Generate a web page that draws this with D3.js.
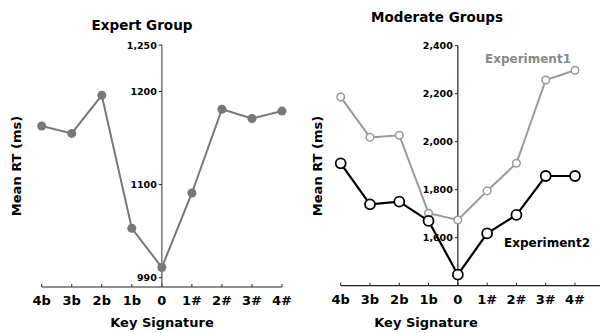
<!DOCTYPE html>
<html>
<head>
<meta charset="utf-8">
<script src="https://cdn.jsdelivr.net/npm/d3@7"></script>
<style>
  body { margin: 0; background: #fff; }
  svg text { font-family: "DejaVu Sans", Verdana, sans-serif; font-weight: bold; }
</style>
</head>
<body>
<div id="chart"></div>
<script>
// key signatures along the x axis
const keys = ["4b", "3b", "2b", "1b", "0", "1#", "2#", "3#", "4#"];

// Expert group mean RT (ms)
const expertRT = [1163, 1155, 1196, 1053, 1011, 1091, 1181, 1171, 1179];
const expertTicks = [1000, 1100, 1200, 1250];
const expertTickLabels = ["990", "1100", "1200", "1,250"];

// Moderate groups
const exp1RT = [2186, 2018, 2027, 1702, 1674, 1795, 1910, 2257, 2298];
const exp2RT = [1910, 1739, 1750, 1670, 1446, 1618, 1695, 1857, 1857];
const moderateTicks = [1600, 1800, 2000, 2200, 2400];

const W = 600, H = 333;
const svg = d3.select("#chart").append("svg")
  .attr("width", W).attr("height", H);

// Left panel: Expert Group
{
  const x = d3.scalePoint().domain(keys).range([41.7, 282]);
  const y = d3.scaleLinear().domain([990, 1250]).range([287, 45]);
  const g = svg.append("g");

  // x axis
  g.append("line")
    .attr("x1", x("4b")).attr("x2", x("4#"))
    .attr("y1", y(990)).attr("y2", y(990))
    .attr("stroke", "#222").attr("stroke-width", 1.2);
  g.selectAll(".xt").data(keys).enter().append("line")
    .attr("x1", d => x(d)).attr("x2", d => x(d))
    .attr("y1", y(990) - 3).attr("y2", y(990))
    .attr("stroke", "#222").attr("stroke-width", 1);
  g.selectAll(".xl").data(keys).enter().append("text")
    .attr("x", d => x(d)).attr("y", y(990) + 18)
    .attr("text-anchor", "middle").attr("font-size", 13)
    .text(d => d);

  // y axis
  g.append("line")
    .attr("x1", x("0")).attr("x2", x("0"))
    .attr("y1", y(1250)).attr("y2", y(990))
    .attr("stroke", "#555").attr("stroke-width", 1.2);
  g.selectAll(".yt").data(expertTicks).enter().append("line")
    .attr("x1", x("0") - 3).attr("x2", x("0"))
    .attr("y1", d => y(d)).attr("y2", d => y(d))
    .attr("stroke", "#222");
  g.selectAll(".yl").data(expertTicks).enter().append("text")
    .attr("x", x("0") - 5).attr("y", d => y(d) + 3.5)
    .attr("text-anchor", "end").attr("font-size", 9.5)
    .text((d, i) => expertTickLabels[i]);

  const line = d3.line().x((d, i) => x(keys[i])).y(d => y(d));
  g.append("path").datum(expertRT)
    .attr("d", line).attr("fill", "none")
    .attr("stroke", "#777").attr("stroke-width", 2);
  g.selectAll(".pt").data(expertRT).enter().append("circle")
    .attr("cx", (d, i) => x(keys[i])).attr("cy", d => y(d))
    .attr("r", 4.5).attr("fill", "#777");

  g.append("text").attr("x", 142).attr("y", 30)
    .attr("text-anchor", "middle").attr("font-size", 13.5)
    .text("Expert Group");
  g.append("text").attr("x", 162).attr("y", 327)
    .attr("text-anchor", "middle").attr("font-size", 13)
    .text("Key Signature");
  g.append("text")
    .attr("transform", "translate(21,166) rotate(-90)")
    .attr("text-anchor", "middle").attr("font-size", 13)
    .text("Mean RT (ms)");
}

// Right panel: Moderate Groups
{
  const x = d3.scalePoint().domain(keys).range([340.7, 575]);
  const y = d3.scaleLinear().domain([1400, 2400]).range([285.7, 45.7]);
  const g = svg.append("g");

  g.append("line")
    .attr("x1", x("4b")).attr("x2", W)
    .attr("y1", y(1400)).attr("y2", y(1400))
    .attr("stroke", "#222").attr("stroke-width", 1.2);
  g.selectAll(".xt").data(keys).enter().append("line")
    .attr("x1", d => x(d)).attr("x2", d => x(d))
    .attr("y1", y(1400) - 3).attr("y2", y(1400))
    .attr("stroke", "#222");
  g.selectAll(".xl").data(keys).enter().append("text")
    .attr("x", d => x(d)).attr("y", y(1400) + 18)
    .attr("text-anchor", "middle").attr("font-size", 13)
    .text(d => d);

  g.append("line")
    .attr("x1", x("0")).attr("x2", x("0"))
    .attr("y1", y(2400)).attr("y2", y(1400))
    .attr("stroke", "#222").attr("stroke-width", 1.2);
  g.selectAll(".yt").data(moderateTicks).enter().append("line")
    .attr("x1", x("0") - 3).attr("x2", x("0"))
    .attr("y1", d => y(d)).attr("y2", d => y(d))
    .attr("stroke", "#222");
  g.selectAll(".yl").data(moderateTicks).enter().append("text")
    .attr("x", x("0") - 5).attr("y", d => y(d) + 3.5)
    .attr("text-anchor", "end").attr("font-size", 9.5)
    .text(d => d3.format(",")(d));

  const line = d3.line().x((d, i) => x(keys[i])).y(d => y(d));

  g.append("path").datum(exp1RT)
    .attr("d", line).attr("fill", "none")
    .attr("stroke", "#999").attr("stroke-width", 2);
  g.selectAll(".p1").data(exp1RT).enter().append("circle")
    .attr("cx", (d, i) => x(keys[i])).attr("cy", d => y(d))
    .attr("r", 3.8).attr("fill", "#fff")
    .attr("stroke", "#999").attr("stroke-width", 1.5);

  g.append("path").datum(exp2RT)
    .attr("d", line).attr("fill", "none")
    .attr("stroke", "#000").attr("stroke-width", 2.2);
  g.selectAll(".p2").data(exp2RT).enter().append("circle")
    .attr("cx", (d, i) => x(keys[i])).attr("cy", d => y(d))
    .attr("r", 5).attr("fill", "#fff")
    .attr("stroke", "#000").attr("stroke-width", 1.8);

  g.append("text").attr("x", 528).attr("y", 63)
    .attr("text-anchor", "middle").attr("font-size", 12)
    .attr("fill", "#888").text("Experiment1");
  g.append("text").attr("x", 547).attr("y", 247)
    .attr("text-anchor", "middle").attr("font-size", 12)
    .attr("fill", "#000").text("Experiment2");

  g.append("text").attr("x", 437).attr("y", 22)
    .attr("text-anchor", "middle").attr("font-size", 13.5)
    .text("Moderate Groups");
  g.append("text").attr("x", 426).attr("y", 327)
    .attr("text-anchor", "middle").attr("font-size", 13)
    .text("Key Signature");
  g.append("text")
    .attr("transform", "translate(322,166) rotate(-90)")
    .attr("text-anchor", "middle").attr("font-size", 13)
    .text("Mean RT (ms)");
}
</script>
</body>
</html>
